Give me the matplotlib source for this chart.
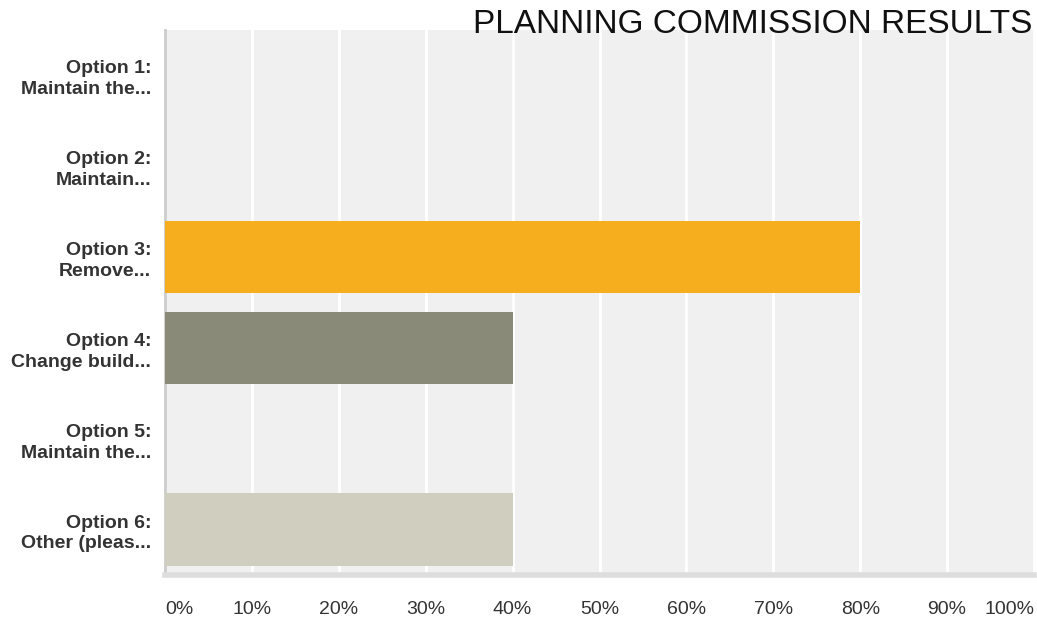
import matplotlib.pyplot as plt
from matplotlib.ticker import FixedLocator

plt.rcParams["font.family"] = ["Liberation Sans", "DejaVu Sans"]

# -----------------------------------------
# Data
# -----------------------------------------

options = [
    "Option 1:\nMaintain the...",
    "Option 2:\nMaintain...",
    "Option 3:\nRemove...",
    "Option 4:\nChange build...",
    "Option 5:\nMaintain the...",
    "Option 6:\nOther (pleas...",
]

shares = [0, 0, 80, 40, 0, 40]

bar_colors = ["#f7ae1e", "#f7ae1e", "#f7ae1e", "#8a8a78", "#cfcebf", "#cfcebf"]

pct_ticks = [0, 10, 20, 30, 40, 50, 60, 70, 80, 90, 100]

# -----------------------------------------
# Plot
# -----------------------------------------

fig = plt.figure(figsize=(10.37, 6.21), dpi=100)
ax = fig.add_axes([165 / 1037, 1 - 575 / 621, 869 / 1037, 545 / 621])
ax.set_facecolor("#f0f0f0")

ypos = list(range(len(options)))

ax.barh(
    ypos,
    shares,
    height=0.8,
    color=bar_colors,
    zorder=3,
)

ax.set_xlim(0, 100)
ax.set_ylim(len(options) - 0.5, -0.5)

ax.xaxis.set_major_locator(FixedLocator(pct_ticks))
ax.grid(axis="x", color="white", linewidth=2, zorder=1)
ax.set_axisbelow(True)

ax.set_yticks(ypos)
ax.set_yticklabels(
    options,
    fontsize=14,
    fontweight="bold",
    color="#333333",
    linespacing=1.3,
)

ax.set_xticks(pct_ticks)
ax.set_xticklabels([f"{t}%" for t in pct_ticks], fontsize=14, color="#333333")
labels = ax.get_xticklabels()
labels[0].set_horizontalalignment("left")
labels[-1].set_horizontalalignment("right")

ax.tick_params(axis="both", length=0)
ax.tick_params(axis="x", pad=19)
ax.tick_params(axis="y", pad=10)

for side in ["top", "right"]:
    ax.spines[side].set_visible(False)

ax.spines["left"].set_color("#cccccc")
ax.spines["left"].set_linewidth(2)
ax.spines["bottom"].set_color("#dddddd")
ax.spines["bottom"].set_linewidth(4)

fig.text(
    1032 / 1037,
    1 - 33 / 621,
    "PLANNING COMMISSION RESULTS",
    ha="right",
    va="baseline",
    fontsize=24,
    color="#111111",
)

fig.savefig("out.png", dpi=100)
plt.close(fig)
